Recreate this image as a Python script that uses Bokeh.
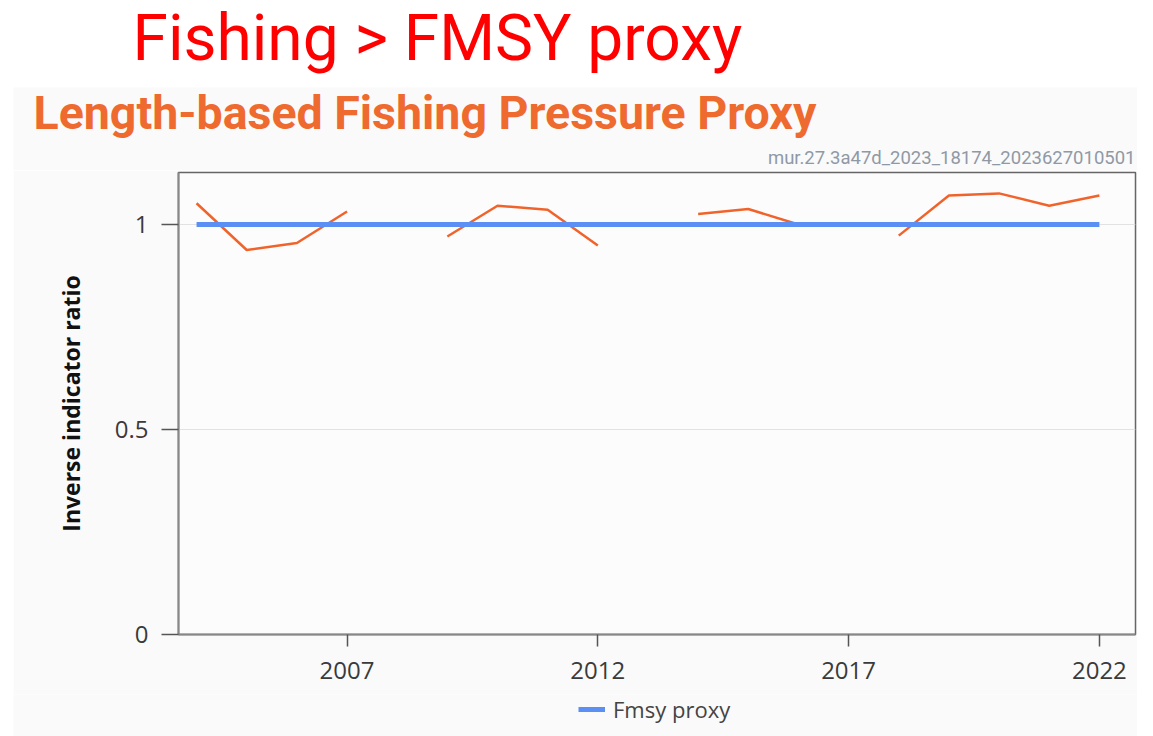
from bokeh.plotting import figure
from bokeh.layouts import column, row
from bokeh.models import (Range1d, FixedTicker, Label, Legend, LegendItem,
                          CustomJSTickFormatter, ColumnDataSource, Spacer)
from bokeh.embed import file_html
from bokeh.resources import INLINE

# ---- data ----
years = [2004, 2005, 2006, 2007, 2008, 2009, 2010, 2011, 2012, 2013,
         2014, 2015, 2016, 2017, 2018, 2019, 2020, 2021, 2022]
inverse_ratio = [1.052, 0.938, 0.955, 1.032, float("nan"), 0.971, 1.046, 1.036, 0.949, float("nan"),
                 1.026, 1.038, 1.000, float("nan"), 0.973, 1.071, 1.076, 1.046, 1.071]
fmsy_years = [2004, 2022]
fmsy_proxy = [1.0, 1.0]
x_ticks = [2007, 2012, 2017, 2022]
y_ticks = [0, 0.5, 1]

main_title = "Fishing > FMSY proxy"
chart_title = "Length-based Fishing Pressure Proxy"
stamp = "mur.27.3a47d_2023_18174_2023627010501"
y_label = "Inverse indicator ratio"
legend_label = "Fmsy proxy"

PANEL = "#fafafa"
ORANGE = "#f0642c"
BLUE = "#5b8ff3"


def blank(width, height, fill, xr=(0, 1), yr=(0, 1)):
    f = figure(width=width, height=height, x_axis_type=None, y_axis_type=None,
               toolbar_location=None, output_backend="svg", min_border=0,
               x_range=Range1d(*xr), y_range=Range1d(*yr))
    f.grid.visible = False
    f.outline_line_color = None
    f.background_fill_color = fill
    f.border_fill_color = fill
    return f


# ---- top white band with red heading ----
top = blank(1137, 87, "white")
top.add_layout(Label(x=132, y=49, x_units="screen", y_units="screen", text=main_title,
                     text_font="Roboto", text_font_size="64px", text_color="#ff0000",
                     text_baseline="alphabetic", text_align="left"))

# ---- grey header with chart title and stamp ----
head = blank(1124, 83, PANEL)
head.add_layout(Label(x=20, y=58, x_units="screen", y_units="screen", text=chart_title,
                      text_font="Roboto", text_font_style="bold", text_font_size="46.5px",
                      text_color="#ee6a2e", text_baseline="alphabetic", text_align="left"))
head.add_layout(Label(x=1122, y=13, x_units="screen", y_units="screen", text=stamp,
                      text_font="Roboto", text_font_size="18.5px", text_color="#8f99a6",
                      text_baseline="alphabetic", text_align="right"))

# ---- main chart ----
p = figure(width=1124, height=524, frame_width=957, frame_height=462,
           toolbar_location=None, output_backend="svg",
           x_range=Range1d(2003.64, 2022.72), y_range=Range1d(0, 1.127),
           min_border_left=165, min_border_right=2, min_border_top=2, min_border_bottom=60)
p.background_fill_color = "#fcfcfc"
p.border_fill_color = PANEL
p.outline_line_color = "#666666"
p.outline_line_width = 1.5

src = ColumnDataSource(dict(x=years, y=inverse_ratio))
p.line("x", "y", source=src, line_color=ORANGE, line_width=2.5)
p.line(fmsy_years, fmsy_proxy, line_color=BLUE, line_width=5)

p.xgrid.visible = False
p.ygrid.grid_line_color = "#e2e2e2"
p.ygrid.grid_line_width = 1

p.xaxis.ticker = FixedTicker(ticks=x_ticks)
p.yaxis.ticker = FixedTicker(ticks=y_ticks)
p.yaxis.formatter = CustomJSTickFormatter(code="return tick.toString();")
for ax in (p.xaxis, p.yaxis):
    ax.axis_line_color = "#888888"
    ax.axis_line_width = 2
    ax.major_tick_line_color = "#555555"
    ax.major_tick_line_width = 1.5
    ax.minor_tick_line_color = None
    ax.major_tick_in = 0
    ax.major_label_text_font = "Open Sans"
    ax.major_label_text_font_size = "24px"
    ax.major_label_text_color = "#3a3a3a"
p.xaxis.major_tick_out = 12
p.xaxis.major_label_standoff = 15
p.yaxis.major_tick_out = 17
p.yaxis.major_label_standoff = 13
p.yaxis.axis_label = y_label
p.yaxis.axis_label_text_font = "Open Sans"
p.yaxis.axis_label_text_font_style = "bold"
p.yaxis.axis_label_text_font_size = "23px"
p.yaxis.axis_label_text_color = "#111111"
p.yaxis.axis_label_standoff = 25

# ---- legend strip below the chart (its own line sits outside the strip's range) ----
foot = blank(1124, 42, PANEL, xr=(0, 1), yr=(0, 1))
r_leg = foot.line(fmsy_years, fmsy_proxy, line_color=BLUE, line_width=5)
legend = Legend(items=[LegendItem(label=legend_label, renderers=[r_leg])],
                location=(565, 12), orientation="horizontal",
                background_fill_alpha=0, border_line_color=None,
                label_text_font="Open Sans", label_text_font_size="22px",
                label_text_color="#444444", glyph_width=27, glyph_height=20,
                padding=0, margin=0, spacing=0, label_standoff=8)
foot.add_layout(legend, "center")

layout = column(top,
                row(Spacer(width=13, height=83), head, spacing=0),
                row(Spacer(width=13, height=524), p, spacing=0),
                row(Spacer(width=13, height=42), foot, spacing=0),
                spacing=0)
open("out.html", "w").write(file_html(layout, INLINE))
